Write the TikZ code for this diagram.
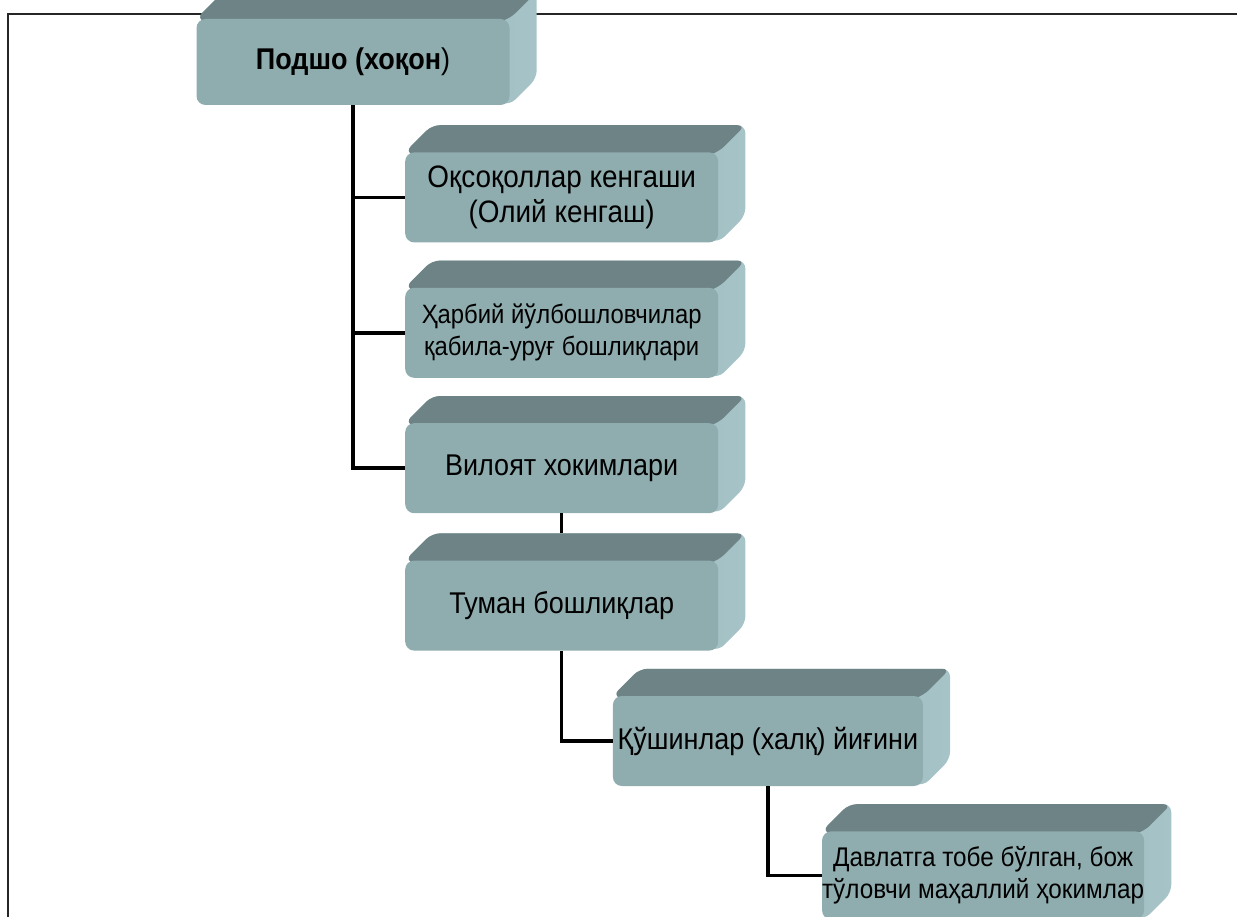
\documentclass[tikz,border=0pt]{standalone}
\usepackage{fontspec}
\setmainfont[FakeStretch=0.9]{Liberation Sans}
\usetikzlibrary{positioning}
\pgfdeclarelayer{frame}
\pgfdeclarelayer{faces}
\pgfsetlayers{frame,faces,main}
\definecolor{slabfront}{HTML}{8FACAE}
\definecolor{slabtop}{HTML}{6E8385}
\definecolor{slabside}{HTML}{A6C4C7}

\begin{document}
\begin{tikzpicture}[x=1pt,y=-1pt,
  slab/.style = {fill=slabfront, rounded corners=9pt, inner sep=0pt, align=center,
    minimum width=313pt, minimum height=90pt, font=\fontsize{30}{34}\selectfont},
  link/.style = {line width=3.5pt, black}]

  \useasboundingbox (0,0) rectangle (1237,917);
  \begin{pgfonlayer}{frame}
    \draw[line width=2pt, black!85] (8,940) -- (8,14) -- (1260,14);
  \end{pgfonlayer}

  \node[slab, minimum height=86pt] (podsho) at (353,62) {\textbf{Подшо (хоқон})};
  \node[slab, below=47pt of podsho.south, anchor=north west, xshift=52pt, font=\fontsize{31}{35}\selectfont] (oqsoqol) {Оқсоқоллар кенгаши\\(Олий кенгаш)};
  \node[slab, below=45pt of oqsoqol, font=\fontsize{26.5}{32}\selectfont] (harbiy) {Ҳарбий йўлбошловчилар\\қабила-уруғ бошлиқлари};
  \node[slab, below=45pt of harbiy] (viloyat) {Вилоят хокимлари};
  \node[slab, below=47pt of viloyat] (tuman) {Туман бошлиқлар};
  \node[slab, below=45pt of tuman.south, anchor=north west, xshift=51pt, minimum width=310pt] (qushin) {Қўшинлар (халқ) йиғини};
  \node[slab, below=45pt of qushin.south, anchor=north west, xshift=54pt, minimum width=308pt, minimum height=88pt,
    font=\fontsize{27}{32}\selectfont] (davlat) {Давлатга тобе бўлган, бож\\тўловчи маҳаллий ҳокимлар};

  \begin{pgfonlayer}{faces}
    \foreach \n in {podsho,oqsoqol,harbiy,viloyat,tuman,qushin,davlat}{
      \path (\n.north west) ++(27pt,27pt) coordinate (tl)
            (\n.north east) ++(27pt,27pt) coordinate (tr)
            (\n.south east) ++(27pt,27pt) coordinate (br);
      \shade[left color=slabfront, right color=slabside, rounded corners=8pt]
        (\n.center) -- (\n.north west) -- (tl) -- (tr) -- (br) -- (\n.south east) -- cycle;
      \fill[slabtop, rounded corners=8pt]
        (\n.center) -- (\n.north west) -- (tl) -- (tr) -- (\n.north east) -- cycle;
    }
  \end{pgfonlayer}

  \draw[link] (podsho.south) |- (oqsoqol.west);
  \draw[link] (podsho.south) |- (harbiy.west);
  \draw[link] (podsho.south) |- (viloyat.west);
  \draw[link] (viloyat.south) -- ([yshift=27pt]tuman.north);
  \draw[link] (tuman.south) |- (qushin.west);
  \draw[link] (qushin.south) |- (davlat.west);
\end{tikzpicture}
\end{document}
